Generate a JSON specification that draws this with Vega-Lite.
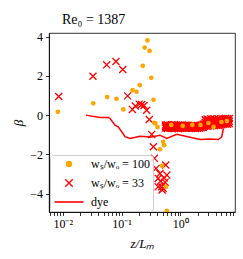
{
  "$schema": "https://vega.github.io/schema/vega-lite/v6.json",
  "width": 186,
  "height": 179,
  "autosize": {"type": "none"},
  "padding": {"left": 49, "top": 33, "right": 8, "bottom": 47},
  "background": "white",
  "title": {"text": "Re₀ = 1387", "anchor": "start", "align": "left", "dx": 13, "frame": "group", "offset": 4, "font": "Liberation Serif", "fontSize": 14, "fontWeight": "normal", "color": "black"},
  "datasets": {
    "pts": [
      {"s":"100","x":0.0083,"y":0.17},{"s":"100","x":0.033,"y":0.60},{"s":"100","x":0.057,"y":0.92},{"s":"100","x":0.082,"y":0.83},
      {"s":"100","x":0.107,"y":0.29},{"s":"100","x":0.154,"y":1.27},{"s":"100","x":0.18,"y":1.19},{"s":"100","x":0.204,"y":1.53},
      {"s":"100","x":0.23,"y":2.51},{"s":"100","x":0.248,"y":3.44},{"s":"100","x":0.276,"y":3.80},{"s":"100","x":0.30,"y":3.27},
      {"s":"100","x":0.32,"y":1.90},{"s":"100","x":0.35,"y":0.78},{"s":"100","x":0.36,"y":-0.39},{"s":"100","x":0.377,"y":-0.42},
      {"s":"100","x":0.41,"y":-0.61},{"s":"100","x":0.51,"y":-1.36},{"s":"100","x":0.53,"y":-1.53},{"s":"100","x":0.45,"y":-1.74},
      {"s":"100","x":0.49,"y":-2.58},{"s":"100","x":0.57,"y":-3.65},{"s":"100","x":0.59,"y":-4.87},
      {"s":"100","x":0.7,"y":-0.5},{"s":"100","x":1.1,"y":-0.55},{"s":"100","x":1.6,"y":-0.5},{"s":"100","x":2.2,"y":-0.5},
      {"s":"100","x":3.0,"y":-0.4},{"s":"100","x":3.67,"y":-0.6},{"s":"100","x":5.0,"y":-0.35},{"s":"100","x":6.2,"y":-0.3},
      {"s":"33","x":0.00855,"y":0.95},{"s":"33","x":0.0327,"y":1.98},{"s":"33","x":0.056,"y":2.56},{"s":"33","x":0.0805,"y":2.73},
      {"s":"33","x":0.105,"y":2.32},{"s":"33","x":0.127,"y":0.98},{"s":"33","x":0.153,"y":0.29},{"s":"33","x":0.172,"y":0.46},
      {"s":"33","x":0.2,"y":0.56},{"s":"33","x":0.22,"y":0.54},{"s":"33","x":0.241,"y":0.49},{"s":"33","x":0.268,"y":0.25},
      {"s":"33","x":0.297,"y":-0.22},{"s":"33","x":0.326,"y":-0.98},{"s":"33","x":0.348,"y":-1.61},{"s":"33","x":0.362,"y":-2.2},
      {"s":"33","x":0.386,"y":-2.71},{"s":"33","x":0.42,"y":-3.22},{"s":"33","x":0.45,"y":-2.97},{"s":"33","x":0.48,"y":-3.65},
      {"s":"33","x":0.51,"y":-3.73},{"s":"33","x":0.42,"y":-3.65},{"s":"33","x":0.49,"y":-3.81},{"s":"33","x":0.565,"y":-2.54},
      {"s":"33","x":0.59,"y":-3.05},{"s":"33","x":0.55,"y":-3.41},{"s":"33","x":0.46,"y":-3.36},{"s":"33","x":0.53,"y":-3.2},
      {"s":"33","x":0.56,"y":-0.5},{"s":"33","x":0.6,"y":-0.49},{"s":"33","x":0.65,"y":-0.52},{"s":"33","x":0.7,"y":-0.5},
      {"s":"33","x":0.75,"y":-0.51},{"s":"33","x":0.8,"y":-0.49},{"s":"33","x":0.86,"y":-0.53},{"s":"33","x":0.92,"y":-0.5},
      {"s":"33","x":1.0,"y":-0.52},{"s":"33","x":1.08,"y":-0.5},{"s":"33","x":1.16,"y":-0.53},{"s":"33","x":1.25,"y":-0.51},
      {"s":"33","x":1.35,"y":-0.52},{"s":"33","x":1.45,"y":-0.54},{"s":"33","x":1.56,"y":-0.53},{"s":"33","x":1.68,"y":-0.55},
      {"s":"33","x":1.8,"y":-0.54},{"s":"33","x":1.95,"y":-0.55},{"s":"33","x":2.1,"y":-0.53},{"s":"33","x":2.25,"y":-0.5},
      {"s":"33","x":2.45,"y":-0.47},
      {"s":"33","x":0.56,"y":-0.58},{"s":"33","x":0.6,"y":-0.6},{"s":"33","x":0.65,"y":-0.57},{"s":"33","x":0.7,"y":-0.59},
      {"s":"33","x":0.75,"y":-0.58},{"s":"33","x":0.8,"y":-0.6},{"s":"33","x":0.86,"y":-0.58},{"s":"33","x":0.92,"y":-0.59},
      {"s":"33","x":1.0,"y":-0.57},{"s":"33","x":1.08,"y":-0.6},{"s":"33","x":1.16,"y":-0.59},{"s":"33","x":1.25,"y":-0.58},
      {"s":"33","x":1.35,"y":-0.6},{"s":"33","x":1.45,"y":-0.59},{"s":"33","x":1.56,"y":-0.6},{"s":"33","x":1.68,"y":-0.61},
      {"s":"33","x":1.8,"y":-0.6},{"s":"33","x":1.95,"y":-0.62},{"s":"33","x":2.1,"y":-0.6},{"s":"33","x":2.25,"y":-0.58},
      {"s":"33","x":2.45,"y":-0.55},
      {"s":"33","x":0.56,"y":-0.66},{"s":"33","x":0.6,"y":-0.68},{"s":"33","x":0.65,"y":-0.65},{"s":"33","x":0.7,"y":-0.67},
      {"s":"33","x":0.75,"y":-0.66},{"s":"33","x":0.8,"y":-0.68},{"s":"33","x":0.86,"y":-0.66},{"s":"33","x":0.92,"y":-0.69},
      {"s":"33","x":1.0,"y":-0.66},{"s":"33","x":1.08,"y":-0.67},{"s":"33","x":1.16,"y":-0.65},{"s":"33","x":1.25,"y":-0.67},
      {"s":"33","x":1.35,"y":-0.66},{"s":"33","x":1.45,"y":-0.65},{"s":"33","x":1.56,"y":-0.67},{"s":"33","x":1.68,"y":-0.66},
      {"s":"33","x":1.8,"y":-0.68},{"s":"33","x":1.95,"y":-0.67},{"s":"33","x":2.1,"y":-0.66},{"s":"33","x":2.25,"y":-0.64},
      {"s":"33","x":2.45,"y":-0.62},
      {"s":"33","x":0.58,"y":-0.54},{"s":"33","x":0.625,"y":-0.55},{"s":"33","x":0.675,"y":-0.53},{"s":"33","x":0.725,"y":-0.55},
      {"s":"33","x":0.775,"y":-0.54},{"s":"33","x":0.83,"y":-0.55},{"s":"33","x":0.89,"y":-0.54},{"s":"33","x":0.96,"y":-0.56},
      {"s":"33","x":1.04,"y":-0.54},{"s":"33","x":1.12,"y":-0.55},{"s":"33","x":1.2,"y":-0.54},{"s":"33","x":1.3,"y":-0.56},
      {"s":"33","x":1.4,"y":-0.55},{"s":"33","x":1.5,"y":-0.57},{"s":"33","x":1.62,"y":-0.56},{"s":"33","x":1.74,"y":-0.58},
      {"s":"33","x":1.87,"y":-0.57},{"s":"33","x":2.02,"y":-0.58},{"s":"33","x":2.17,"y":-0.55},{"s":"33","x":2.35,"y":-0.52},
      {"s":"33","x":2.55,"y":-0.45},
      {"s":"33","x":0.58,"y":-0.63},{"s":"33","x":0.625,"y":-0.62},{"s":"33","x":0.675,"y":-0.64},{"s":"33","x":0.725,"y":-0.63},
      {"s":"33","x":0.775,"y":-0.62},{"s":"33","x":0.83,"y":-0.64},{"s":"33","x":0.89,"y":-0.63},{"s":"33","x":0.96,"y":-0.62},
      {"s":"33","x":1.04,"y":-0.63},{"s":"33","x":1.12,"y":-0.62},{"s":"33","x":1.2,"y":-0.63},{"s":"33","x":1.3,"y":-0.62},
      {"s":"33","x":1.4,"y":-0.63},{"s":"33","x":1.5,"y":-0.62},{"s":"33","x":1.62,"y":-0.64},{"s":"33","x":1.74,"y":-0.63},
      {"s":"33","x":1.87,"y":-0.64},{"s":"33","x":2.02,"y":-0.63},{"s":"33","x":2.17,"y":-0.62},{"s":"33","x":2.35,"y":-0.6},
      {"s":"33","x":2.55,"y":-0.55},
      {"s":"33","x":2.65,"y":-0.24},{"s":"33","x":2.85,"y":-0.2},{"s":"33","x":3.05,"y":-0.23},{"s":"33","x":3.3,"y":-0.19},
      {"s":"33","x":3.55,"y":-0.22},{"s":"33","x":3.8,"y":-0.2},{"s":"33","x":4.1,"y":-0.24},{"s":"33","x":4.4,"y":-0.19},
      {"s":"33","x":4.75,"y":-0.22},{"s":"33","x":5.1,"y":-0.18},{"s":"33","x":5.5,"y":-0.21},{"s":"33","x":5.9,"y":-0.16},
      {"s":"33","x":6.35,"y":-0.19},{"s":"33","x":6.8,"y":-0.17},
      {"s":"33","x":2.65,"y":-0.38},{"s":"33","x":2.85,"y":-0.36},{"s":"33","x":3.05,"y":-0.39},{"s":"33","x":3.3,"y":-0.35},
      {"s":"33","x":3.55,"y":-0.38},{"s":"33","x":3.8,"y":-0.36},{"s":"33","x":4.1,"y":-0.39},{"s":"33","x":4.4,"y":-0.35},
      {"s":"33","x":4.75,"y":-0.37},{"s":"33","x":5.1,"y":-0.34},{"s":"33","x":5.5,"y":-0.36},{"s":"33","x":5.9,"y":-0.32},
      {"s":"33","x":6.35,"y":-0.34},{"s":"33","x":6.8,"y":-0.31},
      {"s":"33","x":2.65,"y":-0.54},{"s":"33","x":2.85,"y":-0.56},{"s":"33","x":3.05,"y":-0.53},{"s":"33","x":3.3,"y":-0.55},
      {"s":"33","x":3.55,"y":-0.52},{"s":"33","x":3.8,"y":-0.54},{"s":"33","x":4.1,"y":-0.51},{"s":"33","x":4.4,"y":-0.53},
      {"s":"33","x":4.75,"y":-0.5},{"s":"33","x":5.1,"y":-0.49},{"s":"33","x":5.5,"y":-0.47},{"s":"33","x":5.9,"y":-0.45},
      {"s":"33","x":6.35,"y":-0.46},{"s":"33","x":6.8,"y":-0.43},
      {"s":"33","x":2.75,"y":-0.29},{"s":"33","x":2.95,"y":-0.27},{"s":"33","x":3.17,"y":-0.3},{"s":"33","x":3.42,"y":-0.27},
      {"s":"33","x":3.67,"y":-0.29},{"s":"33","x":3.95,"y":-0.28},{"s":"33","x":4.25,"y":-0.3},{"s":"33","x":4.57,"y":-0.26},
      {"s":"33","x":4.92,"y":-0.29},{"s":"33","x":5.3,"y":-0.25},{"s":"33","x":5.7,"y":-0.27},{"s":"33","x":6.12,"y":-0.24},
      {"s":"33","x":6.57,"y":-0.25},
      {"s":"33","x":2.75,"y":-0.46},{"s":"33","x":2.95,"y":-0.47},{"s":"33","x":3.17,"y":-0.45},{"s":"33","x":3.42,"y":-0.46},
      {"s":"33","x":3.67,"y":-0.44},{"s":"33","x":3.95,"y":-0.46},{"s":"33","x":4.25,"y":-0.44},{"s":"33","x":4.57,"y":-0.45},
      {"s":"33","x":4.92,"y":-0.43},{"s":"33","x":5.3,"y":-0.42},{"s":"33","x":5.7,"y":-0.41},{"s":"33","x":6.12,"y":-0.39},
      {"s":"33","x":6.57,"y":-0.38},
      {"s":"dye","x":0.0249,"y":0.0},{"s":"dye","x":0.043,"y":-0.12},{"s":"dye","x":0.060,"y":-0.12},{"s":"dye","x":0.064,"y":-0.17},
      {"s":"dye","x":0.0776,"y":-0.51},{"s":"dye","x":0.088,"y":-0.6},{"s":"dye","x":0.115,"y":-1.10},{"s":"dye","x":0.14,"y":-1.19},
      {"s":"dye","x":0.206,"y":-1.07},{"s":"dye","x":0.268,"y":-1.10},{"s":"dye","x":0.305,"y":-1.13},{"s":"dye","x":0.45,"y":-1.02},
      {"s":"dye","x":0.587,"y":-1.19},{"s":"dye","x":0.87,"y":-0.97},{"s":"dye","x":2.16,"y":-1.24},{"s":"dye","x":3.2,"y":-1.22},
      {"s":"dye","x":4.43,"y":-1.24},{"s":"dye","x":5.06,"y":-1.10},{"s":"dye","x":5.38,"y":-0.68}
    ]
  },
  "data": {"name": "pts"},
  "config": {
    "view": {"stroke": "black", "strokeWidth": 0.8},
    "axis": {"grid": false, "domainColor": "black", "domainWidth": 0.8, "tickColor": "black", "tickWidth": 0.8, "tickSize": 3.5,
      "labelFont": "Liberation Serif", "labelFontSize": 12, "labelColor": "black", "labelPadding": 3,
      "titleFont": "Liberation Serif", "titleFontSize": 13, "titleFontWeight": "normal", "titleColor": "black"}
  },
  "encoding": {
    "x": {"field": "x", "type": "quantitative",
      "scale": {"type": "log", "domain": [0.00585, 8.5], "nice": false},
      "axis": {"title": "z/Lₘ", "titleFontStyle": "italic", "titlePadding": 8,
        "values": [0.006,0.007,0.008,0.009,0.01,0.02,0.03,0.04,0.05,0.06,0.07,0.08,0.09,0.1,0.2,0.3,0.4,0.5,0.6,0.7,0.8,0.9,1,2,3,4,5,6,7,8],
        "labelExpr": "datum.value == 0.01 ? '10⁻²' : datum.value == 0.1 ? '10⁻¹' : datum.value == 1 ? '10⁰' : ''",
        "labelOverlap": false, "labelFlush": false,
        "encode": {"ticks": {"update": {"y2": {"signal": "(datum.value == 0.01 || datum.value == 0.1 || datum.value == 1) ? 3.5 : 2"}}}}}},
    "y": {"field": "y", "type": "quantitative",
      "scale": {"domain": [-4.93, 4.18], "nice": false, "zero": false},
      "axis": {"title": "β", "titleFontStyle": "italic", "titlePadding": 4, "values": [-4,-2,0,2,4],
        "labelExpr": "datum.value < 0 ? '−' + abs(datum.value) : '' + datum.value"}},
    "color": {"field": "s", "type": "nominal",
      "scale": {"domain": ["100","33","dye"], "range": ["#ffa500","#ff0000","#ff0000"]},
      "legend": {"title": null, "orient": "bottom-left", "offset": 1, "padding": 3,
        "symbolSize": 256, "rowPadding": 6, "labelFont": "Liberation Serif", "labelFontSize": 12, "labelColor": "black",
        "strokeColor": "#cccccc", "fillColor": "rgba(255,255,255,0.8)", "cornerRadius": 3,
        "labelExpr": "datum.value === '100' ? 'wₛ/wₒ = 100' : datum.value === '33' ? 'wₛ/wₒ = 33' : 'dye'",
        "encode": {
          "symbols": {"update": {
            "shape": {"signal": "datum.value === '100' ? 'circle' : datum.value === '33' ? 'M-1,-1L1,1M1,-1L-1,1' : 'stroke'"},
            "size": {"signal": "datum.value === '100' ? 25 : datum.value === '33' ? 56 : 841"},
            "fill": {"signal": "datum.value === '100' ? '#ffa500' : 'transparent'"},
            "stroke": {"signal": "datum.value === '100' ? 'transparent' : '#ff0000'"},
            "strokeWidth": {"signal": "datum.value === 'dye' ? 1.6 : 1.4"},
            "opacity": {"value": 1},
            "x": {"value": 16}
          }},
          "labels": {"update": {"x": {"value": 38}}}
        }}}
  },
  "layer": [
    {"transform": [{"filter": "datum.s === 'dye'"}], "mark": {"type": "line", "strokeWidth": 1.5, "clip": true}},
    {"transform": [{"filter": "datum.s === '33'"}], "mark": {"type": "point", "shape": "M-1,-1L1,1M1,-1L-1,1", "filled": false, "size": 50, "strokeWidth": 1.3, "opacity": 1, "clip": true}},
    {"transform": [{"filter": "datum.s === '100'"}], "mark": {"type": "point", "shape": "circle", "filled": true, "size": 22, "opacity": 1, "clip": true}}
  ]
}
